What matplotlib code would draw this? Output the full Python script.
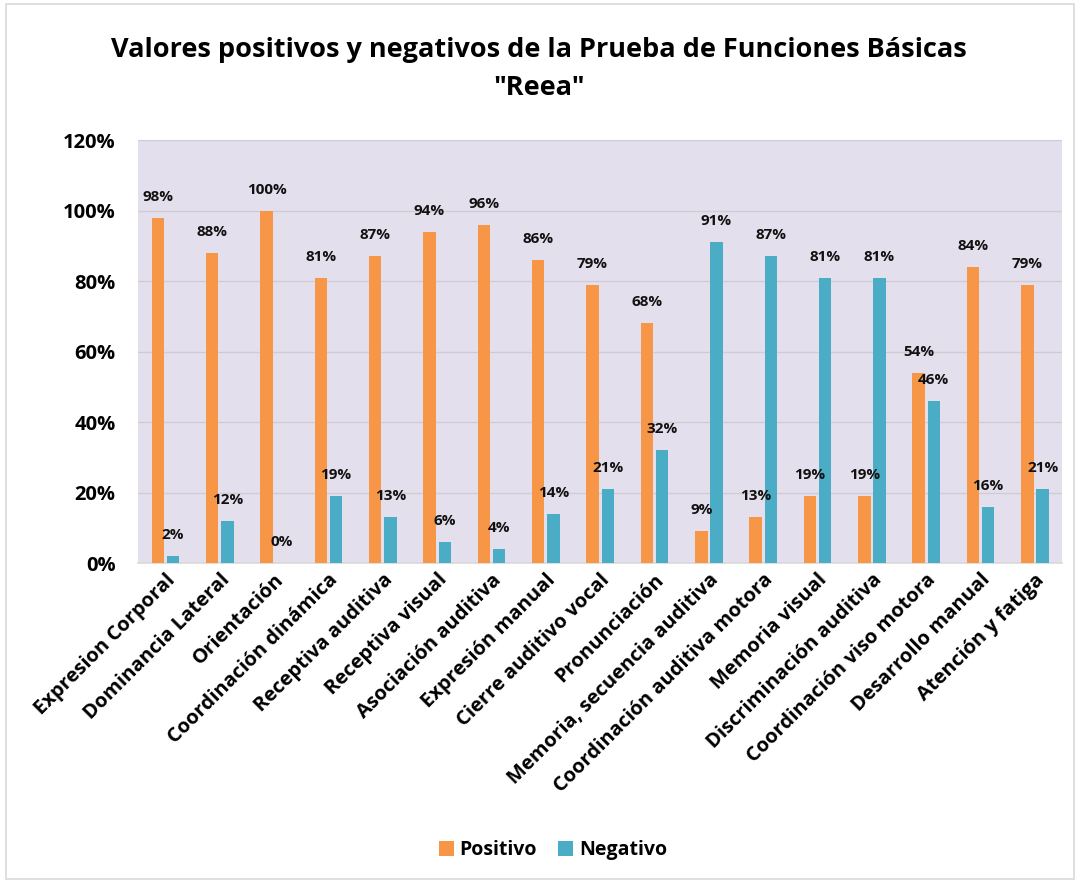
import numpy as np
import matplotlib.pyplot as plt
from matplotlib.patches import Rectangle

plt.rcParams['font.family'] = ['Open Sans', 'DejaVu Sans']
plt.rcParams['font.weight'] = 'bold'

categories = ['Expresion Corporal', 'Dominancia Lateral', 'Orientación',
              'Coordinación dinámica', 'Receptiva auditiva', 'Receptiva visual',
              'Asociación auditiva', 'Expresión manual', 'Cierre auditivo vocal',
              'Pronunciación', 'Memoria, secuencia auditiva',
              'Coordinación auditiva motora', 'Memoria visual',
              'Discriminación auditiva', 'Coordinación viso motora',
              'Desarrollo manual', 'Atención y fatiga']
positivo = [98, 88, 100, 81, 87, 94, 96, 86, 79, 68, 9, 13, 19, 19, 54, 84, 79]
negativo = [2, 12, 0, 19, 13, 6, 4, 14, 21, 32, 91, 87, 81, 81, 46, 16, 21]

orange = '#F79646'
teal = '#4BACC6'

fig = plt.figure(figsize=(10.78, 8.83), dpi=100)
ax = fig.add_axes([0.128, 0.3624, 0.857, 0.479])

# light border around the whole chart
fig.patches.append(Rectangle((0.006, 0.004), 0.99, 0.992, transform=fig.transFigure,
                             fill=False, edgecolor='#D9D9D9', linewidth=1.2))

x = np.arange(len(categories))
w = 0.23
b1 = ax.bar(x - 0.135, positivo, w, color=orange, label='Positivo', zorder=3)
b2 = ax.bar(x + 0.145, negativo, w, color=teal, label='Negativo', zorder=3)

for bars, vals in ((b1, positivo), (b2, negativo)):
    for r, v in zip(bars, vals):
        ax.annotate(f'{v}%', (r.get_x() + r.get_width() / 2, v),
                    xytext=(0, 10), textcoords='offset points',
                    ha='center', va='bottom', fontsize=11, fontweight='bold',
                    color='#111111', zorder=4)

ax.set_facecolor('#E4DFEC')
ax.set_xlim(-0.5, len(categories) - 0.5)
ax.set_ylim(0, 120)
ax.set_yticks(range(0, 121, 20))
ax.set_yticklabels([f'{t}%' for t in range(0, 121, 20)], fontsize=14.5, fontweight='bold')
ax.yaxis.grid(True, color='#D0CCD6', linewidth=1, zorder=0)
ax.set_axisbelow(True)
ax.tick_params(axis='y', length=0, pad=16)
ax.tick_params(axis='x', length=0, pad=5)
ax.set_xticks(x)
ax.set_xticklabels(categories, rotation=45, ha='right', rotation_mode='anchor',
                   fontsize=14.5, fontweight='bold')
for s in ('top', 'right', 'left'):
    ax.spines[s].set_visible(False)
ax.spines['bottom'].set_color('#D9D9D9')
ax.spines['bottom'].set_linewidth(1.2)

fig.suptitle('Valores positivos y negativos de la Prueba de Funciones Básicas\n"Reea"',
             x=0.5, y=0.958, fontsize=19.5, fontweight='bold', linespacing=1.6)

fig.legend(handles=[b1, b2], loc='center', bbox_to_anchor=(0.513, 0.037), ncol=2,
           frameon=False, fontsize=14, handlelength=0.75, handleheight=0.75,
           handletextpad=0.3, columnspacing=1.1)

fig.savefig('out.png', dpi=100)
